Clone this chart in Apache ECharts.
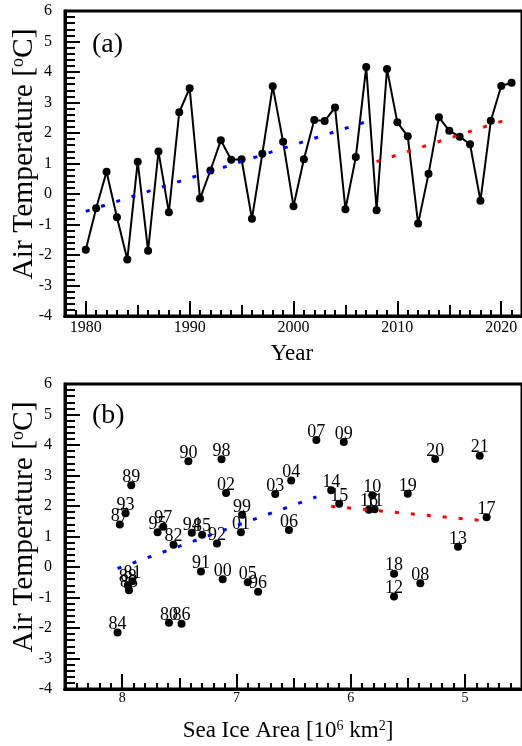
<!DOCTYPE html>
<html><head><meta charset="utf-8">
<script src="https://cdn.jsdelivr.net/npm/echarts@6/dist/echarts.min.js"></script>
<style>html,body{margin:0;padding:0;background:#fff}#c{width:522px;height:746px}</style>
</head><body><div id="c"></div>
<script>
// ---- data ----
const years = [1980,1981,1982,1983,1984,1985,1986,1987,1988,1989,1990,1991,1992,1993,1994,1995,1996,1997,1998,1999,2000,2001,2002,2003,2004,2005,2006,2007,2008,2009,2010,2011,2012,2013,2014,2015,2016,2017,2018,2019,2020,2021];
const airTemp = [-1.83,-0.47,0.73,-0.76,-2.15,1.06,-1.86,1.39,-0.60,2.68,3.47,-0.15,0.77,1.76,1.12,1.14,-0.81,1.32,3.53,1.71,-0.40,1.14,2.43,2.39,2.84,-0.50,1.21,4.16,-0.53,4.10,2.35,1.89,-0.97,0.66,2.52,2.07,1.88,1.63,-0.22,2.40,3.54,3.65];
const seaIceArea = [7.59,7.91,7.55,7.94,8.04,7.30,7.48,8.02,7.95,7.92,7.42,7.31,7.17,7.97,7.39,7.69,6.81,7.64,7.13,6.95,7.12,6.96,7.09,6.66,6.52,6.90,6.54,6.30,5.39,6.06,5.81,5.79,5.62,5.06,6.17,6.10,5.84,4.81,5.62,5.50,5.26,4.87];
const trendYearEarly = [[1980,-0.57],[2007,2.37]];
const trendYearLate = [[2008,1.06],[2021,2.49]];
const trendIceEarly = [[8.04,-0.05],[6.30,2.30]];
const trendIceLate = [[6.17,1.99],[4.81,1.51]];
const yearTickLabels = [1980,1990,2000,2010,2020];
const yearMidTicks = [1985,1995,2005,2015];
const iceTickLabels = [5,6,7,8];
const iceMidTicks = [4.5,5.5,6.5,7.5,8.5];

// ---- helpers ----
const FONT = "'Liberation Serif','Times New Roman',serif";
const yearMinor = [];
for (let y = 1978; y <= 2022; y++) yearMinor.push(y);
const iceMinor = [];
for (let i = 45; i <= 85; i++) iceMinor.push(i / 10);

const chart = echarts.init(document.getElementById('c'), null, {renderer: 'canvas'});

function xAx(grid, min, max, inverse, labelVals, tickVals, len, showLabel, fs, margin) {
  return {
    type: 'value', gridIndex: grid, min: min, max: max, inverse: inverse, position: 'bottom',
    axisLine: {show: true, onZero: false, lineStyle: {color: '#000', width: 3}},
    axisTick: {show: true, inside: true, length: len, customValues: tickVals, lineStyle: {color: '#000', width: 2}},
    axisLabel: {show: showLabel, customValues: labelVals, color: '#000', fontFamily: FONT, fontSize: fs, margin: margin,
      formatter: (v) => String(v)},
    splitLine: {show: false}
  };
}
function yAx(grid) {
  return {
    type: 'value', gridIndex: grid, min: -4, max: 6, interval: 1,
    axisLine: {show: true, onZero: false, lineStyle: {color: '#000', width: 3}},
    axisTick: {show: true, inside: true, length: 15, lineStyle: {color: '#000', width: 2}},
    minorTick: {show: true, splitNumber: 5, length: 10, lineStyle: {color: '#000', width: 2}},
    axisLabel: {color: '#000', fontFamily: FONT, fontSize: 16, margin: 13, formatter: (v) => String(v)},
    splitLine: {show: false}, minorSplitLine: {show: false}
  };
}

const dotted = (c) => ({color: c, width: 3, type: [4, 12]});

const option = {
  animation: false,
  backgroundColor: '#fff',
  grid: [
    {left: 65, top: 11, width: 457, height: 305, show: true, borderColor: '#000', borderWidth: 3, backgroundColor: 'transparent'},
    {left: 65, top: 384, width: 457, height: 305, show: true, borderColor: '#000', borderWidth: 3, backgroundColor: 'transparent'}
  ],
  xAxis: [
    xAx(0, 1978, 2022, false, yearTickLabels, yearTickLabels, 15, true, 16, 4),
    xAx(0, 1978, 2022, false, [], yearMidTicks, 11, false, 16, 4),
    xAx(0, 1978, 2022, false, [], yearMinor, 6, false, 16, 4),
    xAx(1, 4.5, 8.5, true, iceTickLabels, iceTickLabels, 15, true, 14, 2),
    xAx(1, 4.5, 8.5, true, [], iceMidTicks, 11, false, 14, 2),
    xAx(1, 4.5, 8.5, true, [], iceMinor, 6, false, 14, 2)
  ],
  yAxis: [yAx(0), yAx(1)],
  series: [
    {
      type: 'line', xAxisIndex: 0, yAxisIndex: 0,
      data: years.map((y, i) => [y, airTemp[i]]),
      symbol: 'circle', symbolSize: 8, showSymbol: true,
      itemStyle: {color: '#000', opacity: 1}, lineStyle: {color: '#000', width: 2}, z: 2
    },
    {type: 'line', xAxisIndex: 0, yAxisIndex: 0, data: trendYearEarly, showSymbol: false, symbol: 'none', lineStyle: dotted('#0000ff'), z: 5},
    {type: 'line', xAxisIndex: 0, yAxisIndex: 0, data: trendYearLate, showSymbol: false, symbol: 'none', lineStyle: dotted('#ff0000'), z: 5},
    {
      type: 'scatter', xAxisIndex: 3, yAxisIndex: 1,
      data: years.map((y, i) => [seaIceArea[i], airTemp[i], String(y).slice(2)]),
      symbol: 'circle', symbolSize: 8, itemStyle: {color: '#000', opacity: 1}, z: 2,
      label: {show: true, position: 'top', distance: -5, offset: [-2, 0], formatter: (p) => p.value[2],
        color: '#000', opacity: 1, fontFamily: FONT, fontSize: 18, textBorderWidth: 0},
      emphasis: {disabled: true},
      labelLayout: {hideOverlap: false}
    },
    {type: 'line', xAxisIndex: 3, yAxisIndex: 1, data: trendIceEarly, showSymbol: false, symbol: 'none', lineStyle: dotted('#0000ff'), z: 5},
    {type: 'line', xAxisIndex: 3, yAxisIndex: 1, data: trendIceLate, showSymbol: false, symbol: 'none', lineStyle: dotted('#ff0000'), z: 5}
  ],
  graphic: [
    {type: 'text', x: 92, y: 44.5, style: {text: '(a)', fill: '#000', font: '28px ' + FONT, textAlign: 'left', textVerticalAlign: 'middle'}},
    {type: 'text', x: 92, y: 416, style: {text: '(b)', fill: '#000', font: '28px ' + FONT, textAlign: 'left', textVerticalAlign: 'middle'}},
    {type: 'text', x: 24, y: 154, rotation: Math.PI / 2, style: {
      text: 'Air Temperature [{s|o}C]', fill: '#000', font: '29.5px ' + FONT, textAlign: 'center', textVerticalAlign: 'middle',
      rich: {s: {fontSize: 18, fontFamily: FONT, verticalAlign: 'top', fill: '#000'}}}},
    {type: 'text', x: 24, y: 527, rotation: Math.PI / 2, style: {
      text: 'Air Temperature [{s|o}C]', fill: '#000', font: '29.5px ' + FONT, textAlign: 'center', textVerticalAlign: 'middle',
      rich: {s: {fontSize: 18, fontFamily: FONT, verticalAlign: 'top', fill: '#000'}}}},
    {type: 'text', x: 292, y: 354, style: {text: 'Year', fill: '#000', font: '23px ' + FONT, textAlign: 'center', textVerticalAlign: 'middle'}},
    {type: 'text', x: 288, y: 731, style: {
      text: 'Sea Ice Area [10{s|6} km{s|2}]', fill: '#000', font: '23px ' + FONT, textAlign: 'center', textVerticalAlign: 'middle',
      rich: {s: {fontSize: 14, fontFamily: FONT, verticalAlign: 'top', fill: '#000'}}}}
  ]
};
chart.setOption(option);
</script></body></html>
